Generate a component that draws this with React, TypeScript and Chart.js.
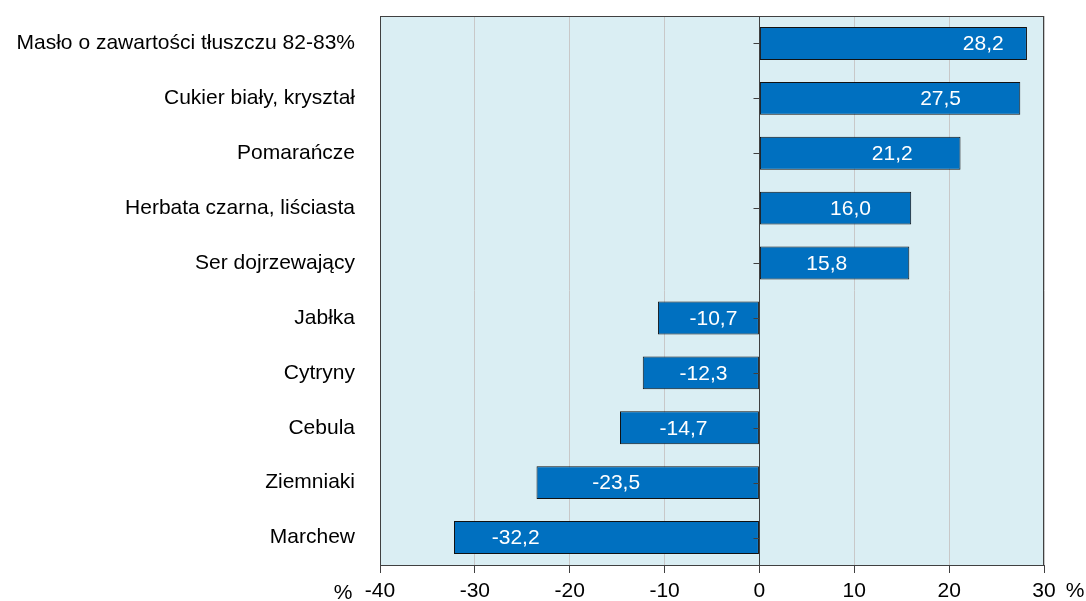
import React, { useEffect, useRef } from "react";
import { Chart, registerables } from "chart.js";

Chart.register(...registerables);

const categories = [
  "Masło o zawartości tłuszczu 82-83%",
  "Cukier biały, kryształ",
  "Pomarańcze",
  "Herbata czarna, liściasta",
  "Ser dojrzewający",
  "Jabłka",
  "Cytryny",
  "Cebula",
  "Ziemniaki",
  "Marchew",
];
const values = [28.2, 27.5, 21.2, 16.0, 15.8, -10.7, -12.3, -14.7, -23.5, -32.2];
// where each value label sits along the axis
const labelAt = [23.6, 19.1, 14.0, 9.6, 7.1, -4.85, -5.9, -8.0, -15.1, -25.7];
const xMin = -40;
const xMax = 30;
const xStep = 10;
const unitLabel = "%";

const FONT = "'Liberation Sans', Arial, sans-serif";
const DARK = "#404040";

const fmt = (v: number) => v.toFixed(1).replace(".", ",");

export default function App() {
  const ref = useRef<HTMLCanvasElement | null>(null);

  useEffect(() => {
    document.body.style.margin = "0";
    const canvas = ref.current;
    if (!canvas) return;

    const framePlugin = {
      id: "frame",
      beforeDraw(chart: any) {
        const { ctx, chartArea: a } = chart;
        ctx.save();
        ctx.fillStyle = "#daeef3";
        ctx.fillRect(a.left, a.top, a.right - a.left, a.bottom - a.top);
        ctx.restore();
      },
      afterDatasetsDraw(chart: any) {
        const { ctx, chartArea: a } = chart;
        const xs = chart.scales.x;
        const ys = chart.scales.y;
        ctx.save();
        ctx.strokeStyle = DARK;
        ctx.lineWidth = 1;
        ctx.strokeRect(Math.round(a.left) + 0.5, Math.round(a.top) + 0.5, Math.round(a.right - a.left) - 1, Math.round(a.bottom - a.top));
        // zero line
        const x0 = Math.round(xs.getPixelForValue(0)) + 0.5;
        ctx.beginPath();
        ctx.moveTo(x0, a.top);
        ctx.lineTo(x0, a.bottom);
        ctx.stroke();
        // category ticks at zero line
        ctx.beginPath();
        categories.forEach((_, i) => {
          const y = Math.round(ys.getPixelForValue(i)) + 0.5;
          ctx.moveTo(x0 - 6, y);
          ctx.lineTo(x0, y);
        });
        ctx.stroke();
        // value labels
        ctx.fillStyle = "#ffffff";
        ctx.font = `21px ${FONT}`;
        ctx.textAlign = "center";
        ctx.textBaseline = "middle";
        values.forEach((v, i) => {
          ctx.fillText(fmt(v), xs.getPixelForValue(labelAt[i]), ys.getPixelForValue(i) + 1);
        });
        ctx.restore();
      },
      afterDraw(chart: any) {
        const { ctx, chartArea: a } = chart;
        ctx.save();
        ctx.fillStyle = "#000";
        ctx.font = `21px ${FONT}`;
        ctx.textAlign = "center";
        ctx.textBaseline = "middle";
        ctx.fillText(unitLabel, a.left - 37, 593);
        ctx.fillText(unitLabel, a.right + 31, 591);
        ctx.restore();
      },
    };

    const chart = new Chart(canvas, {
      type: "bar",
      data: {
        labels: categories,
        datasets: [
          {
            data: values,
            backgroundColor: "#0070c0",
            borderColor: "#111111",
            borderWidth: 1,
            borderSkipped: false,
            barPercentage: 0.6,
            categoryPercentage: 1,
          },
        ],
      },
      options: {
        indexAxis: "y",
        responsive: false,
        animation: false,
        devicePixelRatio: 1,
        layout: { padding: { top: 16, right: 42, left: 0, bottom: 0 } },
        plugins: { legend: { display: false }, tooltip: { enabled: false } },
        scales: {
          x: {
            min: xMin,
            max: xMax,
            ticks: {
              stepSize: xStep,
              color: "#000",
              font: { size: 21, family: FONT },
              padding: 6,
              maxRotation: 0,
            },
            grid: {
              color: (c: any) => (c.tick && c.tick.value === 0 ? DARK : "#c8c8c8"),
              tickColor: DARK,
              tickLength: 8,
              lineWidth: 1,
            },
            border: { display: true, color: DARK },
            afterFit: (s: any) => {
              s.height = 36;
              s.paddingLeft = 0;
              s.paddingRight = 0;
            },
          },
          y: {
            ticks: {
              color: "#000",
              font: { size: 21, family: FONT },
              padding: 25,
            },
            grid: { display: false, drawTicks: false },
            border: { display: false },
            afterFit: (s: any) => {
              s.width = 380;
              s.paddingTop = 0;
              s.paddingBottom = 0;
            },
          },
        },
      },
      plugins: [framePlugin],
    } as any);

    return () => chart.destroy();
  }, []);

  return <canvas ref={ref} width={1086} height={601} style={{ display: "block" }} />;
}
